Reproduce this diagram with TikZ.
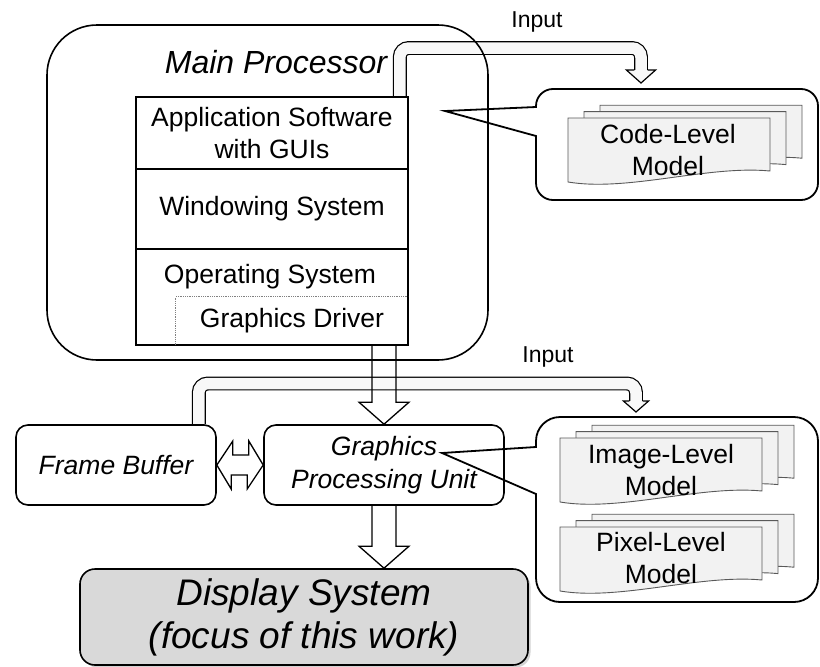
\documentclass[tikz,border=0pt]{standalone}
\usepackage{fontspec}
\setmainfont{Liberation Sans}
\usetikzlibrary{calc,shadows,backgrounds}
\definecolor{sheet-fill}{HTML}{F2F2F2}
\definecolor{sheet-line}{HTML}{595959}
\definecolor{display-fill}{HTML}{D9D9D9}
\definecolor{pipe-fill}{HTML}{F8F8F8}

\tikzset{
  pics/docstack/.style={code={
    \foreach \d in {32,16,0}
      \draw[draw=sheet-line, line width=0.9pt, fill=sheet-fill, shift={(\d,-0.4*\d)}]
        (0,0) -- (202,0) -- (202,53) .. controls (140,47) and (60,74) .. (0,64) -- cycle;
  }}
}

\begin{document}
\begin{tikzpicture}[x=1pt, y=-1pt,
      every node/.style={font=\fontsize{26.5}{32}\selectfont, align=center},
      stacklayer/.style={draw, line width=1.6pt, minimum width=272pt, inner sep=0pt},
      hwbox/.style={draw, line width=1.6pt, rounded corners=12pt, minimum width=200pt,
        minimum height=80pt, font=\fontsize{26.5}{33}\selectfont\itshape},
      pipe/.style={draw, line width=1.2pt, double=pipe-fill, double distance=11.5pt},
      pipehead/.style={draw, line width=1.2pt, fill=pipe-fill},
      blockarrow/.style={draw, line width=1.3pt},
      bubble/.style={draw, line width=1.8pt},
      lbl/.style={font=\fontsize{23}{26}\selectfont}]
    \useasboundingbox (0,0) rectangle (820,667);
    % main processor and its software stack
    \node[draw, line width=1.6pt, rounded corners=50pt, minimum width=441pt,
          minimum height=335pt] (mp) at (267.5,192.5) {};
    \node[font=\fontsize{32}{36}\selectfont\itshape] (mplbl) at (276,62) {Main Processor};
    \node[stacklayer, minimum height=72pt] (app) at (272,133) {Application Software\\with GUIs};
    \node[stacklayer, minimum height=80pt] (win) at (272,209) {Windowing System};
    \node[stacklayer, minimum height=96pt] (os) at (272,297) {};
    \node (ostxt) at (270,277) {Operating System};
    \node[minimum width=232pt, minimum height=48pt, inner sep=0pt] (drv) at (292,321) {Graphics Driver};
    \draw[densely dotted, black!50, line width=0.8pt] (drv.south west) |- (drv.north east);
    % hardware
    \node[hwbox] (fb) at (116,465) {Frame Buffer};
    \node[hwbox, minimum width=240pt] (gpu) at (384,465) {Graphics\\Processing Unit};
    \node[hwbox, minimum width=448pt, minimum height=96pt, rounded corners=15pt,
          fill=display-fill, drop shadow={shadow xshift=2.5pt, shadow yshift=-2.5pt, opacity=0.35},
          font=\fontsize{37}{43}\selectfont\itshape]
          (disp) at (304,617) {Display System\\(focus of this work)};
    % block arrows
    \draw[blockarrow] ($(gpu.north |- os.south)+(-12,0)$) -- ($(gpu.north)+(-12,-22)$) -- ++(-13,0)
      -- (gpu.north) -- ++(25,-22) -- ++(-13,0) -- ($(gpu.north |- os.south)+(12,0)$);
    \draw[blockarrow] ($(gpu.south)+(-12,0)$) -- ($(gpu.south |- disp.north)+(-12,-22)$) -- ++(-13,0)
      -- (gpu.south |- disp.north) -- ++(25,-22) -- ++(-13,0) -- ($(gpu.south)+(12,0)$);
    \draw[blockarrow] (fb.east) -- ++(16,-24) -- ++(0,14) -- ++(16,0) -- ++(0,-14) -- (gpu.west)
      -- ++(-16,24) -- ++(0,-14) -- ++(-16,0) -- ++(0,14) -- cycle;
    % input pipes to the models
    \coordinate (in1) at (641,83);
    \coordinate (in2) at (636,412);
    \begin{pgfonlayer}{background}
      \draw[pipe] ($(app.north east)+(-9,0)$) [rounded corners=9pt] |- ($(in1)+(0,-35)$)
        [rounded corners=20pt] -- ($(in1)+(0,-13)$);
      \filldraw[pipehead] ($(in1)+(-6.6,-13)$) -- ++(-8,0) -- (in1) -- ++(14.6,-13) -- ++(-8,0);
      \draw[pipe] ($(fb.north east)+(-18,0)$) [rounded corners=9pt] |- ($(in2)+(0,-28.5)$)
        [rounded corners=20pt] -- ($(in2)+(0,-11)$);
      \filldraw[pipehead] ($(in2)+(-6.6,-11)$) -- ++(-6,0) -- (in2) -- ++(12.6,-11) -- ++(-6,0);
    \end{pgfonlayer}
    \node[lbl] (in1lbl) at (537,22) {Input};
    \node[lbl] (in2lbl) at (548,357) {Input};
    % callouts with the models
    \coordinate (tip1) at (445,111);
    \coordinate (tip2) at (442,453);
    \draw[bubble] (tip1) -- (536,107) [rounded corners=17pt] -- (536,89) -- (818,89)
      -- (818,200) -- (536,200) [sharp corners] -- (536,136) -- cycle;
    \draw[bubble] (tip2) -- (536,447) [rounded corners=24pt] -- (536,417) -- (818,417)
      -- (818,602) -- (536,602) [sharp corners] -- (536,494) -- cycle;
    \pic at (568,118) {docstack};
    \node (code) at (668,150) {Code-Level\\Model};
    \pic at (560,438) {docstack};
    \node (imgmodel) at (661,470) {Image-Level\\Model};
    \pic at (560,527) {docstack};
    \node (pixmodel) at (661,558) {Pixel-Level\\Model};
  \end{tikzpicture}
\end{document}
